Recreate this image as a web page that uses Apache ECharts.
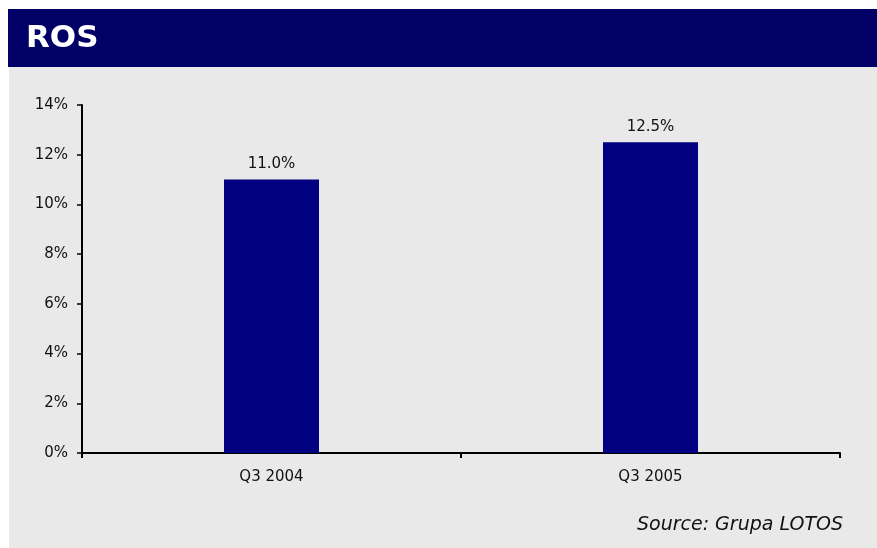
<!DOCTYPE html>
<html>
<head>
<meta charset="utf-8">
<style>
  html, body { margin: 0; padding: 0; background: #ffffff; }
  #chart { width: 877px; height: 548px; }
</style>
<script src="https://cdn.jsdelivr.net/npm/echarts@6/dist/echarts.min.js"></script>
</head>
<body>
<div id="chart"></div>
<script>
// Return on sales by quarter (%)
const categories = ['Q3 2004', 'Q3 2005'];
const rosValues = [11.0, 12.5];
const yTicks = { min: 0, max: 14, step: 2 };
const titleText = 'ROS';
const sourceText = 'Source: Grupa LOTOS';

const FONT = '"DejaVu Sans", Verdana, sans-serif';
const chart = echarts.init(document.getElementById('chart'), null, { renderer: 'canvas' });

chart.setOption({
  animation: false,
  backgroundColor: '#ffffff',
  graphic: [
    // grey panel behind the plot
    { type: 'rect', z: -10, shape: { x: 9, y: 67, width: 868, height: 481 }, style: { fill: '#e9e9e9' } },
    // navy title band
    { type: 'rect', z: -10, shape: { x: 8, y: 9, width: 869, height: 58 }, style: { fill: '#000066' } },
    { type: 'text', left: 26, top: 23, style: { text: titleText, fill: '#ffffff', font: 'bold 31px ' + FONT } },
    { type: 'text', right: 34, top: 516, style: { text: sourceText, fill: '#111111', font: 'italic 19px ' + FONT } }
  ],
  grid: { left: 82, right: 37, top: 105, bottom: 95, containLabel: false },
  xAxis: {
    type: 'category',
    data: categories,
    boundaryGap: true,
    axisLine: { lineStyle: { color: '#000000', width: 2 } },
    axisTick: { show: true, length: 5, alignWithLabel: false, lineStyle: { color: '#000000', width: 2 } },
    axisLabel: { color: '#111111', fontFamily: FONT, fontSize: 15, margin: 17 },
    splitLine: { show: false }
  },
  yAxis: {
    type: 'value',
    min: yTicks.min,
    max: yTicks.max,
    interval: yTicks.step,
    axisLine: { show: true, lineStyle: { color: '#000000', width: 2 } },
    axisTick: { show: true, length: 5, lineStyle: { color: '#000000', width: 1.5 } },
    axisLabel: { color: '#111111', fontFamily: FONT, fontSize: 15, margin: 14, formatter: '{value}%' },
    splitLine: { show: false }
  },
  series: [{
    type: 'bar',
    data: rosValues,
    barWidth: 95,
    itemStyle: { color: '#000080' },
    label: {
      show: true,
      position: 'top',
      distance: 8,
      color: '#111111',
      fontFamily: FONT,
      fontSize: 15,
      formatter: p => p.value.toFixed(1) + '%'
    }
  }]
});
</script>
</body>
</html>
